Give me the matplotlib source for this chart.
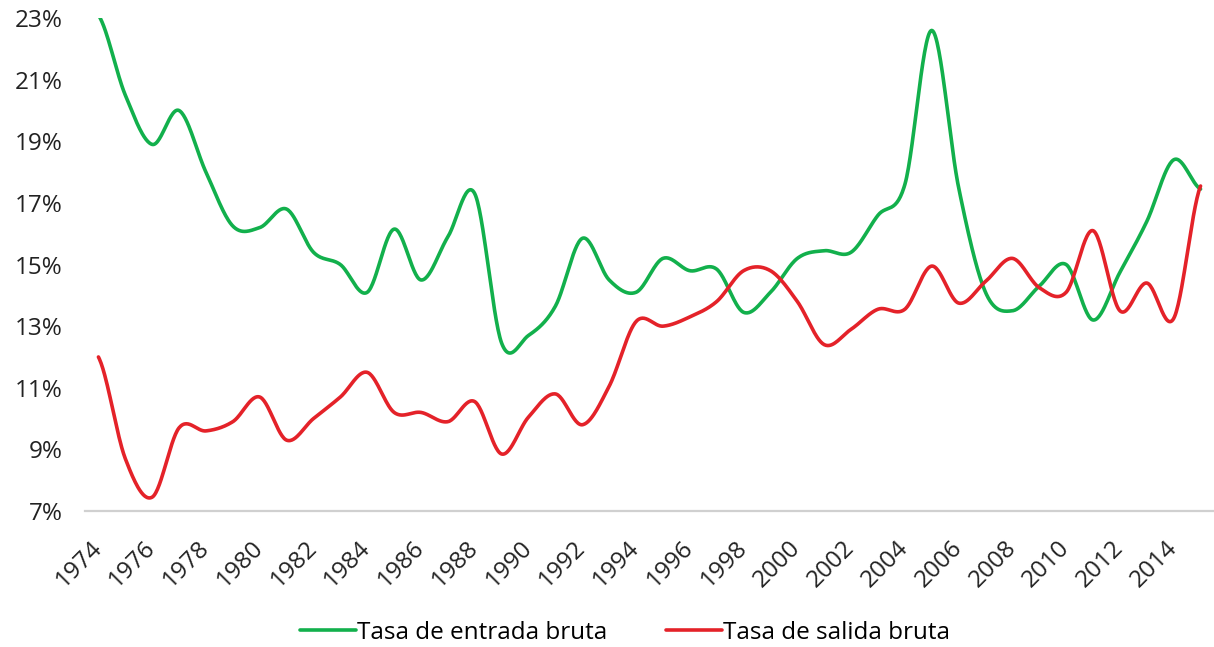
import numpy as np
import matplotlib.pyplot as plt
from matplotlib.ticker import FuncFormatter

years = list(range(1974, 2016))

entrada = [23.1, 20.5, 18.9, 20.0, 18.0, 16.25, 16.2, 16.8, 15.4, 15.0,
           14.1, 16.15, 14.5, 15.9, 17.3, 12.45, 12.7, 13.65, 15.85, 14.5,
           14.1, 15.2, 14.8, 14.85, 13.45, 14.1, 15.2, 15.45, 15.4, 16.6,
           17.6, 22.6, 17.5, 14.1, 13.5, 14.3, 15.0, 13.2, 14.75, 16.4,
           18.4, 17.45]

salida = [12.0, 8.7, 7.45, 9.7, 9.6, 9.9, 10.7, 9.3, 10.0, 10.7,
          11.5, 10.2, 10.2, 9.9, 10.55, 8.85, 10.05, 10.8, 9.8, 11.05,
          13.15, 13.0, 13.3, 13.8, 14.8, 14.8, 13.8, 12.4, 12.9, 13.55,
          13.55, 14.95, 13.75, 14.45, 15.2, 14.25, 14.1, 16.1, 13.5, 14.4,
          13.25, 17.55]

labels = ['Tasa de entrada bruta', 'Tasa de salida bruta']
colors = ['#12b04c', '#e42229']


def smooth(x, y, n=30):
    # Catmull-Rom spline like Excel's smoothed line
    x = np.asarray(x, float)
    y = np.asarray(y, float)
    xs, ys = [], []
    for i in range(len(x) - 1):
        y0 = y[i - 1] if i > 0 else y[i]
        y3 = y[i + 2] if i + 2 < len(y) else y[i + 1]
        m1 = (y[i + 1] - y0) / 2
        m2 = (y3 - y[i]) / 2
        t = np.linspace(0, 1, n, endpoint=False)
        h00 = 2 * t**3 - 3 * t**2 + 1
        h10 = t**3 - 2 * t**2 + t
        h01 = -2 * t**3 + 3 * t**2
        h11 = t**3 - t**2
        xs.append(x[i] + t * (x[i + 1] - x[i]))
        ys.append(h00 * y[i] + h10 * m1 + h01 * y[i + 1] + h11 * m2)
    xs.append([x[-1]])
    ys.append([y[-1]])
    return np.concatenate(xs), np.concatenate(ys)


plt.rcParams['font.family'] = ['Open Sans', 'DejaVu Sans']

fig = plt.figure(figsize=(12.14, 6.47), dpi=100)
ax = fig.add_axes([0.070, 0.2102, 0.930, 0.7618])

for series, lab, col in zip([entrada, salida], labels, colors):
    sx, sy = smooth(years, series)
    ax.plot(sx, sy, color=col, lw=2.6, label=lab, solid_capstyle='round')

ax.set_xlim(years[0] - 0.5, years[-1] + 0.5)
ax.set_ylim(7, 23)
ax.set_yticks(np.arange(7, 24, 2))
ax.yaxis.set_major_formatter(FuncFormatter(lambda v, p: f'{v:.0f}%'))
ax.set_xticks(years[::2])
ax.set_xticklabels([str(y) for y in years[::2]], rotation=45,
                   ha='right', va='center', rotation_mode='anchor')

for s in ['top', 'right', 'left']:
    ax.spines[s].set_visible(False)
ax.spines['bottom'].set_color('#d0d0d0')
ax.spines['bottom'].set_linewidth(1.6)
ax.tick_params(axis='both', length=0, colors='#222222')
ax.tick_params(axis='y', pad=16, labelsize=17.5)
ax.tick_params(axis='x', pad=24, labelsize=17.5)

fig.legend(*ax.get_legend_handles_labels(), loc='center',
           bbox_to_anchor=(0.515, 0.022), ncol=2, frameon=False,
           fontsize=17.5, handlelength=2.3, handletextpad=0.05,
           columnspacing=2.4)

fig.savefig('out.png', dpi=100)
